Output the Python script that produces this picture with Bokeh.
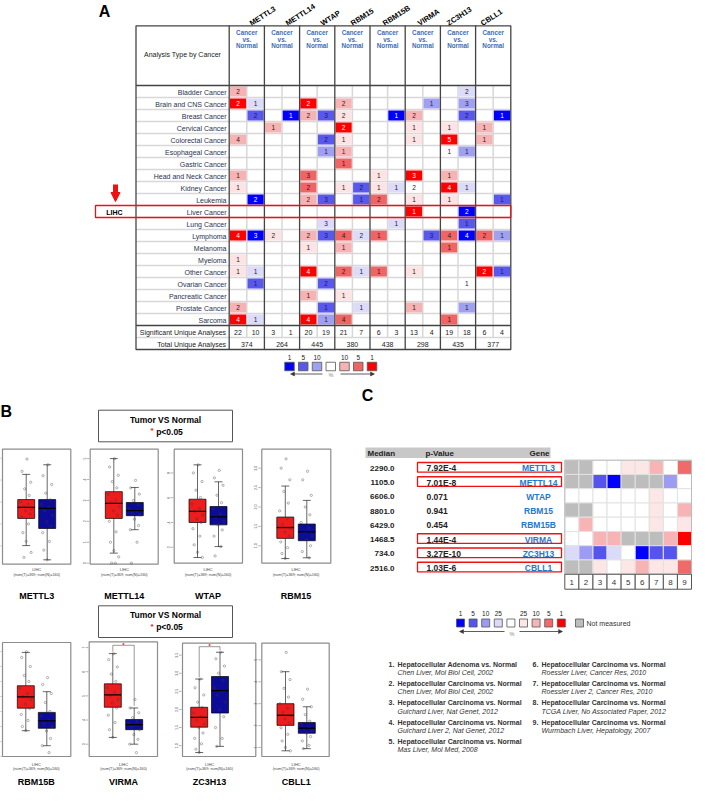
import math
from bokeh.plotting import figure
from bokeh.models import Range1d, Arrow, NormalHead
from bokeh.core.properties import value
from bokeh.embed import file_html
from bokeh.resources import INLINE

# ====================== DATA ======================
genes = ["METTL3", "METTL14", "WTAP", "RBM15", "RBM15B", "VIRMA", "ZC3H13", "CBLL1"]
cancers = ["Bladder Cancer", "Brain and CNS Cancer", "Breast Cancer", "Cervical Cancer",
           "Colorectal Cancer", "Esophageal Cancer", "Gastric Cancer", "Head and Neck Cancer",
           "Kidney Cancer", "Leukemia", "Liver Cancer", "Lung Cancer", "Lymphoma", "Melanoma",
           "Myeloma", "Other Cancer", "Ovarian Cancer", "Pancreatic Cancer", "Prostate Cancer",
           "Sarcoma"]

# Panel A: number of analyses (over-expression = up, under-expression = down) and
# colour level (1 = top 1%, 2 = top 5%, 3 = top 10%, 4 = weaker, 0 = not ranked)
up_counts = {
    "METTL3":  [2, 2, 0, 0, 4, 0, 0, 1, 1, 0, 0, 0, 4, 0, 1, 1, 0, 0, 2, 4],
    "METTL14": [0, 0, 0, 1, 0, 0, 0, 0, 0, 0, 0, 0, 2, 0, 0, 0, 0, 0, 0, 0],
    "WTAP":    [0, 2, 2, 0, 0, 0, 0, 3, 2, 2, 0, 0, 2, 1, 0, 4, 0, 1, 0, 4],
    "RBM15":   [0, 2, 2, 2, 1, 1, 1, 0, 1, 0, 0, 0, 4, 1, 0, 2, 0, 1, 0, 4],
    "RBM15B":  [0, 0, 0, 0, 0, 0, 0, 1, 1, 2, 0, 0, 1, 0, 0, 1, 0, 0, 0, 0],
    "VIRMA":   [0, 0, 2, 1, 1, 0, 0, 3, 2, 1, 1, 0, 0, 0, 0, 1, 0, 0, 1, 0],
    "ZC3H13":  [0, 0, 0, 1, 5, 1, 0, 1, 4, 1, 0, 0, 4, 1, 0, 0, 0, 0, 0, 1],
    "CBLL1":   [0, 0, 0, 1, 1, 0, 0, 0, 0, 0, 0, 0, 2, 0, 0, 2, 0, 0, 0, 0],
}
up_levels = {
    "METTL3":  [3, 1, 0, 0, 3, 0, 0, 3, 4, 0, 0, 0, 1, 0, 4, 4, 0, 0, 3, 1],
    "METTL14": [0, 0, 0, 3, 0, 0, 0, 0, 0, 0, 0, 0, 4, 0, 0, 0, 0, 0, 0, 0],
    "WTAP":    [0, 1, 3, 0, 0, 0, 0, 2, 2, 3, 0, 0, 3, 4, 0, 1, 0, 3, 0, 1],
    "RBM15":   [0, 3, 4, 1, 4, 3, 2, 0, 4, 0, 0, 0, 2, 3, 0, 2, 0, 4, 0, 2],
    "RBM15B":  [0, 0, 0, 0, 0, 0, 0, 4, 4, 2, 0, 0, 2, 0, 0, 2, 0, 0, 0, 0],
    "VIRMA":   [0, 0, 3, 4, 4, 0, 0, 1, 0, 4, 1, 0, 0, 0, 0, 4, 0, 0, 3, 0],
    "ZC3H13":  [0, 0, 0, 4, 1, 0, 0, 3, 1, 4, 0, 0, 2, 2, 0, 0, 0, 0, 0, 2],
    "CBLL1":   [0, 0, 0, 3, 3, 0, 0, 0, 0, 0, 0, 0, 2, 0, 0, 1, 0, 0, 0, 0],
}
down_counts = {
    "METTL3":  [0, 1, 2, 0, 0, 0, 0, 0, 0, 2, 0, 0, 3, 0, 0, 1, 1, 0, 0, 1],
    "METTL14": [0, 0, 1, 0, 0, 0, 0, 0, 0, 0, 0, 0, 0, 0, 0, 0, 0, 0, 0, 0],
    "WTAP":    [0, 0, 3, 0, 2, 1, 0, 0, 0, 3, 0, 3, 3, 0, 0, 0, 2, 0, 1, 1],
    "RBM15":   [0, 0, 0, 0, 0, 0, 0, 0, 2, 1, 0, 0, 2, 0, 0, 1, 0, 0, 1, 0],
    "RBM15B":  [0, 0, 1, 0, 0, 0, 0, 0, 1, 0, 0, 1, 0, 0, 0, 0, 0, 0, 0, 0],
    "VIRMA":   [0, 1, 0, 0, 0, 0, 0, 0, 0, 0, 0, 0, 3, 0, 0, 0, 0, 0, 0, 0],
    "ZC3H13":  [2, 3, 2, 0, 0, 1, 0, 0, 1, 0, 2, 1, 4, 0, 0, 0, 1, 0, 1, 0],
    "CBLL1":   [0, 0, 1, 0, 0, 0, 0, 0, 0, 1, 0, 0, 1, 0, 0, 1, 0, 0, 0, 0],
}
down_levels = {
    "METTL3":  [0, 4, 2, 0, 0, 0, 0, 0, 0, 1, 0, 0, 1, 0, 0, 4, 2, 0, 0, 4],
    "METTL14": [0, 0, 1, 0, 0, 0, 0, 0, 0, 0, 0, 0, 0, 0, 0, 0, 0, 0, 0, 0],
    "WTAP":    [0, 0, 2, 0, 2, 3, 0, 0, 0, 2, 0, 4, 2, 0, 0, 0, 2, 0, 2, 3],
    "RBM15":   [0, 0, 0, 0, 0, 0, 0, 0, 2, 2, 0, 0, 4, 0, 0, 4, 0, 0, 4, 0],
    "RBM15B":  [0, 0, 1, 0, 0, 0, 0, 0, 4, 0, 0, 4, 0, 0, 0, 0, 0, 0, 0, 0],
    "VIRMA":   [0, 3, 0, 0, 0, 0, 0, 0, 0, 0, 0, 0, 2, 0, 0, 0, 0, 0, 0, 0],
    "ZC3H13":  [4, 3, 2, 0, 0, 3, 0, 0, 4, 0, 1, 2, 1, 0, 0, 0, 0, 0, 3, 0],
    "CBLL1":   [0, 0, 1, 0, 0, 0, 0, 0, 0, 2, 0, 0, 3, 0, 0, 2, 0, 0, 0, 0],
}
sig_unique = [22, 10, 3, 1, 20, 19, 21, 7, 6, 3, 13, 4, 19, 18, 6, 4]
total_unique = [374, 264, 445, 380, 438, 298, 435, 377]
legend_a_labels = ["1", "5", "10", "", "10", "5", "1"]

# Panel B: GEPIA box plots, log2(TPM+1): [lower whisker, Q1, median, Q3, upper whisker]
tumor_stats = {
    "METTL3": [1.01, 2.25, 2.75, 3.11, 4.26], "METTL14": [0.48, 2.14, 2.86, 3.42, 5.00],
    "WTAP": [1.18, 4.00, 4.89, 5.88, 8.65], "RBM15": [0.67, 1.19, 1.47, 1.74, 2.54],
    "RBM15B": [1.86, 2.61, 2.99, 3.36, 4.47], "VIRMA": [3.28, 4.53, 5.04, 5.50, 6.75],
    "ZC3H13": [0.81, 1.51, 1.78, 2.06, 2.84], "CBLL1": [0.85, 2.01, 2.47, 3.00, 4.46],
}
normal_stats = {
    "METTL3": [0.36, 1.79, 2.71, 3.11, 4.70], "METTL14": [1.60, 2.27, 2.51, 2.90, 3.62],
    "WTAP": [2.06, 3.81, 4.46, 5.29, 7.28], "RBM15": [0.69, 1.13, 1.36, 1.56, 2.17],
    "RBM15B": [1.36, 1.94, 2.19, 2.47, 3.16], "VIRMA": [3.00, 3.60, 3.81, 4.02, 4.50],
    "ZC3H13": [0.98, 1.90, 2.52, 2.91, 3.58], "CBLL1": [0.95, 1.65, 1.88, 2.14, 2.86],
}
tumor_points = {
    "METTL3": [4.96, 4.4, 3.9, 3.6, 3.3, 3.0, 2.9, 2.8, 2.7, 2.6, 2.45, 2.3, 2.0, 1.6, 1.2, 0.7, 0.47],
    "METTL14": [5.0, 4.6, 4.2, 3.9, 3.6, 3.3, 3.0, 2.9, 2.7, 2.5, 2.3, 2.0, 1.5, 1.0, 0.6, 0.3, 0.0, 0.0],
    "WTAP": [8.65, 8.0, 7.3, 6.6, 6.0, 5.5, 5.1, 4.9, 4.6, 4.3, 4.0, 3.5, 2.9, 2.2, 1.6, 1.18],
    "RBM15": [3.24, 3.0, 2.7, 2.4, 2.1, 1.9, 1.7, 1.55, 1.45, 1.35, 1.25, 1.1, 0.95, 0.8, 0.67],
    "RBM15B": [4.49, 4.3, 4.0, 3.7, 3.5, 3.3, 3.1, 3.0, 2.9, 2.75, 2.6, 2.4, 2.2, 2.0, 1.86],
    "VIRMA": [6.75, 6.5, 6.2, 5.9, 5.6, 5.35, 5.15, 5.0, 4.85, 4.7, 4.5, 4.2, 3.9, 3.6, 3.28],
    "ZC3H13": [2.84, 2.6, 2.4, 2.2, 2.05, 1.9, 1.8, 1.7, 1.6, 1.5, 1.35, 1.2, 1.05, 0.9, 0.81],
    "CBLL1": [5.34, 4.46, 4.1, 3.7, 3.3, 3.0, 2.8, 2.6, 2.45, 2.3, 2.1, 1.9, 1.6, 1.3, 1.0, 0.85],
}
normal_points = {
    "METTL3": [4.7, 4.2, 3.8, 3.4, 3.1, 2.9, 2.75, 2.6, 2.4, 2.1, 1.9, 1.6, 1.2, 0.8, 0.36],
    "METTL14": [3.96, 3.6, 3.3, 3.0, 2.8, 2.6, 2.5, 2.4, 2.3, 2.1, 1.8, 1.6, 1.0, 0.0],
    "WTAP": [8.2, 7.6, 7.0, 6.2, 5.6, 5.1, 4.7, 4.4, 4.1, 3.8, 3.4, 2.9, 2.06, 1.31],
    "RBM15": [2.92, 2.7, 2.3, 2.0, 1.8, 1.6, 1.45, 1.35, 1.25, 1.15, 1.0, 0.85, 0.69],
    "RBM15B": [3.63, 3.4, 3.1, 2.8, 2.5, 2.35, 2.2, 2.1, 2.0, 1.85, 1.6, 1.36, 1.13],
    "VIRMA": [4.85, 4.5, 4.3, 4.1, 3.95, 3.85, 3.8, 3.7, 3.6, 3.4, 3.2, 3.0, 2.65],
    "ZC3H13": [3.58, 3.4, 3.2, 3.0, 2.8, 2.6, 2.5, 2.4, 2.2, 2.0, 1.8, 1.5, 1.2, 0.98],
    "CBLL1": [3.66, 3.2, 2.86, 2.5, 2.2, 2.05, 1.95, 1.85, 1.75, 1.65, 1.5, 1.3, 1.1, 0.95],
}
box_ylim = {
    "METTL3": (0.16, 5.41), "METTL14": (-0.05, 5.45), "WTAP": (0.72, 9.91), "RBM15": (0.55, 3.49),
    "RBM15B": (1.0, 4.8), "VIRMA": (2.49, 7.24), "ZC3H13": (0.70, 3.83), "CBLL1": (0.59, 5.76),
}
box_ticks = {
    "METTL3": [1, 2, 3, 4, 5], "METTL14": [0, 1, 2, 3, 4, 5], "WTAP": [2, 4, 6, 8],
    "RBM15": [1.0, 1.5, 2.0, 2.5, 3.0], "RBM15B": [1.0, 1.5, 2.0, 2.5, 3.0, 3.5, 4.0, 4.5],
    "VIRMA": [3, 4, 5, 6, 7], "ZC3H13": [1.0, 1.5, 2.0, 2.5, 3.0, 3.5], "CBLL1": [1, 2, 3, 4, 5],
}
significant_b = ["VIRMA", "ZC3H13"]
num_tumor, num_normal = 369, 160

# Panel C: Oncomine liver datasets
c_median = [2290.0, 1105.0, 6606.0, 8801.0, 6429.0, 1468.5, 734.0, 2516.0]
c_pvalue = ["7.92E-4", "7.01E-8", "0.071", "0.941", "0.454", "1.44E-4", "3.27E-10", "1.03E-6"]
c_highlight = [True, True, False, False, False, True, True, True]
c_levels = {
    "METTL3":  ["G", "G", "0", "0", "r4", "r4", "r3", "0", "r2"],
    "METTL14": ["G", "G", "b2", "b1", "G", "G", "G", "b3", "0"],
    "WTAP":    ["0", "0", "0", "0", "0", "0", "r4", "0", "0"],
    "RBM15":   ["G", "G", "0", "0", "0", "0", "r4", "0", "r3"],
    "RBM15B":  ["0", "r3", "0", "0", "0", "0", "r4", "0", "r4"],
    "VIRMA":   ["0", "0", "r3", "r3", "G", "G", "G", "r3", "r1"],
    "ZC3H13":  ["b4", "b3", "b2", "b4", "0", "b1", "b2", "b2", "0"],
    "CBLL1":   ["G", "G", "r4", "0", "r4", "r3", "r4", "r4", "r2"],
}
legend_c_levels = ["b1", "b2", "b3", "b4", "0", "r4", "r3", "r2", "r1"]
legend_c_labels = ["1", "5", "10", "25", "", "25", "10", "5", "1"]
ref_titles = ["Hepatocellular Adenoma vs. Normal"] + ["Hepatocellular Carcinoma vs. Normal"] * 8
ref_cites = ["Chen Liver, Mol Biol Cell, 2002", "Chen Liver, Mol Biol Cell, 2002",
             "Guichard Liver, Nat Genet, 2012", "Guichard Liver 2, Nat Genet, 2012",
             "Mas Liver, Mol Med, 2008", "Roessler Liver, Cancer Res, 2010",
             "Roessler Liver 2, Cancer Res, 2010", "TCGA Liver, No Associated Paper, 2012",
             "Wurmbach Liver, Hepatology, 2007"]

# ====================== STYLE ======================
RED = {0: "#ffffff", 1: "#ff0000", 2: "#f06464", 3: "#f7b3b3", 4: "#fde3e3"}
BLUE = {0: "#ffffff", 1: "#0000ff", 2: "#5858ec", 3: "#a0a0f3", 4: "#dcdcfa"}
C_COL = {"G": "#bdbdbd", "0": "#ffffff", "r4": "#fde6e6", "r3": "#f8b4b4", "r2": "#f06a6a",
         "r1": "#ff0000", "b4": "#dadaf9", "b3": "#9c9cf3", "b2": "#5555ee", "b1": "#0000ff"}
FONT = "Liberation Sans"
BOX_RED, BOX_BLUE = "#ee1c1c", "#0c0c99"

PX0, PX1, PY0, PY1 = 8.0, 700.0, 8.0, 793.0

def xr(v1, p1, v2, p2):
    f = lambda q: v1 + (q - p1) * (v2 - v1) / (p2 - p1)
    return Range1d(start=f(PX0), end=f(PX1))

def yr(v1, p1, v2, p2):
    f = lambda q: v1 + (q - p1) * (v2 - v1) / (p2 - p1)
    return Range1d(start=f(PY1), end=f(PY0))

p = figure(width=692, height=785, x_range=Range1d(PX0, PX1), y_range=Range1d(PY1, PY0),
           output_backend="svg", toolbar_location=None, x_axis_location=None,
           y_axis_location=None, min_border=0, title=None)
p.outline_line_color = None
p.grid.visible = False
p.background_fill_color = "white"
p.border_fill_color = "white"

def lst(a):
    return a if isinstance(a, list) else [a]

def txt(x, y, s, size, color="#222222", align="center", baseline="middle", style="normal",
        font=FONT, angle=0.0, xn="default", yn="default"):
    x, y, s = lst(x), lst(y), lst(s)
    n = max(len(x), len(y), len(s))
    x = x * n if len(x) == 1 else x
    y = y * n if len(y) == 1 else y
    s = s * n if len(s) == 1 else s
    p.text(x=x, y=y, text=s, text_font=value(font), text_font_size=f"{size}px",
           text_color=color, text_align=align, text_baseline=baseline,
           text_font_style=style, angle=angle, x_range_name=xn, y_range_name=yn)

# ====================== PANEL A ======================
AX0, SUBW, AY0, ROWH = 236.7, 17.6, 93.0, 12.0
A_L, A_T = 143.5, 33.3
A_R = AX0 + 16 * SUBW
nrow = len(cancers)
p.extra_x_ranges["ax"] = xr(0, AX0, 16, A_R)
p.extra_y_ranges["ay"] = yr(0, AY0, 22, AY0 + 22 * ROWH)

txt(112, 19, "A", 16, color="black", style="bold", font="Liberation Sans")

# gene labels (rotated)
glx = [258, 294, 329, 359, 391, 426, 455, 489]
txt(glx, 31.5, genes, 7.5, color="black", style="bold", align="left", baseline="alphabetic",
    angle=0.58)

# light row / sub-column separators
p.segment(x0=A_L, x1=A_R, y0=[r for r in range(1, nrow)] + [nrow + 1],
          y1=[r for r in range(1, nrow)] + [nrow + 1], y_range_name="ay",
          line_color="#d8d8d8", line_width=1.5)
p.segment(x0=[2 * k + 1 for k in range(8)], x1=[2 * k + 1 for k in range(8)], y0=0,
          y1=nrow + 1, x_range_name="ax", y_range_name="ay", line_color="#d8d8d8",
          line_width=1.5)

# coloured cells
cx_, cy_, cc_, cn_, ct_ = [], [], [], [], []
for gi, g in enumerate(genes):
    for side, cnts, lvls, pal in [(0, up_counts[g], up_levels[g], RED),
                                  (1, down_counts[g], down_levels[g], BLUE)]:
        for r, (c, l) in enumerate(zip(cnts, lvls)):
            if c > 0:
                cx_.append(2 * gi + side + 0.5)
                cy_.append(r + 0.5)
                cc_.append(pal[l])
                cn_.append(str(c))
                ct_.append("white" if l == 1 else "#222222")
p.rect(x=cx_, y=cy_, width=0.92, height=0.84, fill_color=cc_, line_color=None,
       x_range_name="ax", y_range_name="ay")
txt(cx_, [v + 0.04 for v in cy_], cn_, 6.5, color=ct_, xn="ax", yn="ay")

# dark frame lines
p.quad(left=A_L, right=A_R, top=A_T, bottom=AY0 + 22 * ROWH, fill_color=None,
       line_color="#444444", line_width=1.3)
p.segment(x0=[2 * k for k in range(8)], x1=[2 * k for k in range(8)], y0=-5.0, y1=22,
          x_range_name="ax", y_range_name="ay", line_color="#444444", line_width=1.3)
p.segment(x0=A_L, x1=A_R, y0=[0, nrow], y1=[0, nrow], y_range_name="ay",
          line_color="#444444", line_width=1.4)

# header texts
gc = [2 * k + 1 for k in range(8)]
for line, yy in [("Cancer", 40.2), ("vs.", 46.5), ("Normal", 53.0)]:
    txt(gc, yy, line, 6.3, color="#3d6cb4", style="bold", xn="ax")
txt(190, 62, "Analysis Type by Cancer", 7, color="#222222")

# row labels
txt(234, [r + 0.55 for r in range(nrow)], cancers, 7, color="#27324f", align="right", yn="ay")
txt(234, [nrow + 0.55, nrow + 1.55], ["Significant Unique Analyses", "Total Unique Analyses"],
    7, color="#222222", align="right", yn="ay")
txt([i + 0.5 for i in range(16)], nrow + 0.55, [str(v) for v in sig_unique], 7,
    xn="ax", yn="ay")
txt(gc, nrow + 1.55, [str(v) for v in total_unique], 7, xn="ax", yn="ay")

# LIHC highlight
lr = cancers.index("Liver Cancer")
p.quad(left=103, right=A_R, top=lr, bottom=lr + 1, y_range_name="ay", fill_color=None,
       line_color="#ee1111", line_width=1.3)
txt(122, lr + 0.55, "LIHC", 7, color="black", style="bold", yn="ay")
p.add_layout(Arrow(end=NormalHead(size=9, fill_color="#ee1111", line_color="#ee1111"),
                   x_start=123, y_start=192, x_end=123, y_end=209,
                   line_color="#ee1111", line_width=5))

# legend A
la_x = [297 + 13.75 * i for i in range(7)]
la_c = [BLUE[1], BLUE[2], BLUE[3], "#ffffff", RED[3], RED[2], RED[1]]
p.rect(x=la_x, y=374, width=9.5, height=8.5, fill_color=la_c, line_color="#555555",
       line_width=0.8)
txt(la_x, 364.5, legend_a_labels, 6.5, color="#222222")
for xs, xe in [(330, 298), (348, 382)]:
    p.add_layout(Arrow(end=NormalHead(size=4, fill_color="#333333", line_color="#333333",
                                      line_width=0.5),
                       x_start=xs, y_start=381.5, x_end=xe, y_end=381.5,
                       line_color="#333333", line_width=0.8))
txt(338.5, 382.5, "%", 5.5, color="#888888")

# ====================== PANEL B ======================
txt(8, 419, "B", 16, color="black", style="bold", align="left")
for top, bot in [(417.7, 449.3), (613.3, 645.0)]:
    p.quad(left=106, right=240, top=top, bottom=bot, fill_color=None, line_color="#555555",
           line_width=1)
    txt(173, top + 9.5, "Tumor VS Normal", 8.5, color="black", style="bold")
    txt(177, top + 21.5, "p<0.05", 8.5, color="black", style="bold")
    txt(159.5, top + 20.5, "*", 8, color="#ee1111", style="bold")

b_layout = [
    (10.0, 78.3, 456.7, 571.7, 33.7, 54.7),
    (97.7, 165.7, 456.7, 571.7, 121.3, 142.3),
    (181.7, 250.0, 456.7, 570.7, 205.0, 226.0),
    (269.3, 338.3, 456.7, 570.7, 292.8, 314.3),
    (10.0, 78.3, 650.0, 764.0, 33.3, 54.3),
    (96.7, 165.0, 649.3, 764.0, 120.3, 141.7),
    (190.0, 263.3, 650.7, 764.0, 206.7, 227.5),
    (269.3, 336.7, 650.7, 764.0, 293.0, 314.3),
]
jit = [0.1, -0.55, 0.6, -0.2, 0.4, -0.75, 0.25, -0.35, 0.7, -0.05, 0.5, -0.6, 0.3, -0.45,
       0.0, 0.65, -0.3, 0.2]
HW = 8.5
for i, g in enumerate(genes):
    L, R, Tp, Bt, tc, nc = b_layout[i]
    lo, hi = box_ylim[g]
    rn = "b_" + g
    p.extra_y_ranges[rn] = yr(lo, Bt, hi, Tp)
    p.quad(left=L, right=R, top=Tp, bottom=Bt, fill_color="white", line_color="#8c8c8c",
           line_width=1.2)
    # ticks
    tk = box_ticks[g]
    p.segment(x0=L - 3.5, x1=L - 1, y0=tk, y1=tk, y_range_name=rn, line_color="#666666",
              line_width=0.5)
    if L > 20:
        txt(L - 6, tk, [str(v) for v in tk], 3.6, color="#444444", angle=math.pi / 2,
            yn=rn)
    for stats, pts, c, col in [(tumor_stats[g], tumor_points[g], tc, BOX_RED),
                               (normal_stats[g], normal_points[g], nc, BOX_BLUE)]:
        lw, q1, md, q3, uw = stats
        p.segment(x0=[c, c], x1=[c, c], y0=[q3, q1], y1=[uw, lw], y_range_name=rn,
                  line_color="black", line_width=0.6)
        p.segment(x0=[c - 4, c - 4], x1=[c + 4, c + 4], y0=[uw, lw], y1=[uw, lw],
                  y_range_name=rn, line_color="black", line_width=0.6)
        p.quad(left=c - HW, right=c + HW, top=q3, bottom=q1, y_range_name=rn,
               fill_color=col, line_color="black", line_width=0.7)
        px = [c + jit[k % len(jit)] * 7.5 for k in range(len(pts))]
        p.scatter(x=px, y=pts, y_range_name=rn, marker="circle", size=2.3,
                  fill_color=None, line_color="#3a3a3a", line_alpha=0.75, line_width=0.5)
        p.segment(x0=c - HW, x1=c + HW, y0=md, y1=md, y_range_name=rn,
                  line_color="black", line_width=1.3)
    if g in significant_b:
        vt = hi - (hi - lo) * 3.5 / (Bt - Tp)
        d = (hi - lo) * 2.0 / (Bt - Tp)
        ut, un = tumor_stats[g][4] + d, normal_stats[g][4] + d
        p.segment(x0=[tc, nc, tc], x1=[tc, nc, nc], y0=[vt, vt, vt], y1=[ut, un, vt],
                  y_range_name=rn, line_color="#555555", line_width=0.6)
        txt((tc + nc) / 2, vt + (hi - lo) * 0.5 / (Bt - Tp), "*", 6, color="#ee1111",
            style="bold", yn=rn)
    mid = (tc + nc) / 2
    row2 = i >= 4
    ly = 771.7 if row2 else 577.3
    txt(mid, ly, "LIHC", 4, color="#444444")
    txt(mid, ly + 5.2, f"(num(T)={num_tumor}; num(N)={num_normal})", 3.8, color="#444444")
    txt(mid, 789.0 if row2 else 603.0, g, 9, color="black", style="bold")

# ====================== PANEL C ======================
txt(375, 403, "C", 16, color="black", style="bold")
CX0, CY0, CH = 572.3, 467.7, 14.25
CW = (699.0 - CX0) / 9
p.extra_x_ranges["cx"] = xr(0, CX0, 9, CX0 + 9 * CW)
p.extra_y_ranges["cy"] = yr(0, CY0, 8, CY0 + 8 * CH)

p.quad(left=373, right=558, top=455, bottom=465.5, fill_color="#c8c8c8", line_color=None)
txt(375, 460.5, "Median", 8, color="#222222", style="bold", align="left")
txt(433, 460.5, "p-Value", 8, color="#222222", style="bold", align="left")
txt(557, 460.5, "Gene", 8, color="#222222", style="bold", align="right")

hx, hy, hc = [], [], []
for r, g in enumerate(genes):
    for c, lv in enumerate(c_levels[g]):
        hx.append(c + 0.5)
        hy.append(r + 0.5)
        hc.append(C_COL[lv])
p.rect(x=hx, y=hy, width=1, height=1, fill_color=hc, line_color="#e2e2e2", line_width=1,
       x_range_name="cx", y_range_name="cy")
p.quad(left=0, right=9, top=0, bottom=8, fill_color=None, line_color="#bbbbbb",
       line_width=1, x_range_name="cx", y_range_name="cy")
p.rect(x=[c + 0.5 for c in range(9)], y=8.53, width=1, height=1.05, fill_color="white",
       line_color="#555555", line_width=1, x_range_name="cx", y_range_name="cy")
txt([c + 0.5 for c in range(9)], 8.58, [str(c + 1) for c in range(9)], 8,
    color="#333333", xn="cx", yn="cy")

ry = [r + 0.58 for r in range(8)]
txt(402, ry, [f"{m:.1f}" for m in c_median], 8, color="#222222", style="bold",
    align="right", yn="cy")
txt(434, ry, c_pvalue, 8.5, color="#222222", style="bold", align="left", yn="cy")
txt(546, ry, genes, 8.5, color="#1f78d1", style="bold", yn="cy")
hr = [r for r in range(8) if c_highlight[r]]
p.quad(left=425, right=569, top=[r + 0.5 - 0.34 for r in hr],
       bottom=[r + 0.5 + 0.34 for r in hr], fill_color=None, line_color="#ee1111",
       line_width=1.3, y_range_name="cy")

# legend C
lc_x = [468 + 12.6 * i for i in range(9)]
p.rect(x=lc_x, y=630.5, width=8, height=8, fill_color=[C_COL[l] for l in legend_c_levels],
       line_color="#555555", line_width=0.8)
txt(lc_x, 621, legend_c_labels, 6.5, color="#222222")
p.rect(x=587, y=630.5, width=8, height=8, fill_color=C_COL["G"], line_color="#555555",
       line_width=0.8)
txt(594, 631, "Not measured", 7, color="#333333", align="left")
for xs, xe in [(512, 467), (527, 570)]:
    p.add_layout(Arrow(end=NormalHead(size=4, fill_color="#333333", line_color="#333333",
                                      line_width=0.5),
                       x_start=xs, y_start=639, x_end=xe, y_end=639,
                       line_color="#333333", line_width=0.8))
txt(519.5, 641, "%", 5.5, color="#888888")

# references
for k in range(len(ref_titles)):
    col, row = (0, k) if k < 5 else (1, k - 5)
    nx = 396 if col == 0 else 540
    y0 = 671.7 + 19.3 * row
    txt(nx, y0, f"{k + 1}.", 7, color="#333333", align="left", style="bold")
    txt(nx + 9, y0, ref_titles[k], 7, color="#333333", align="left", style="bold")
    txt(nx + 9, y0 + 8.3, ref_cites[k], 7, color="#333333", align="left", style="italic")

open("out.html", "w").write(file_html(p, INLINE))
